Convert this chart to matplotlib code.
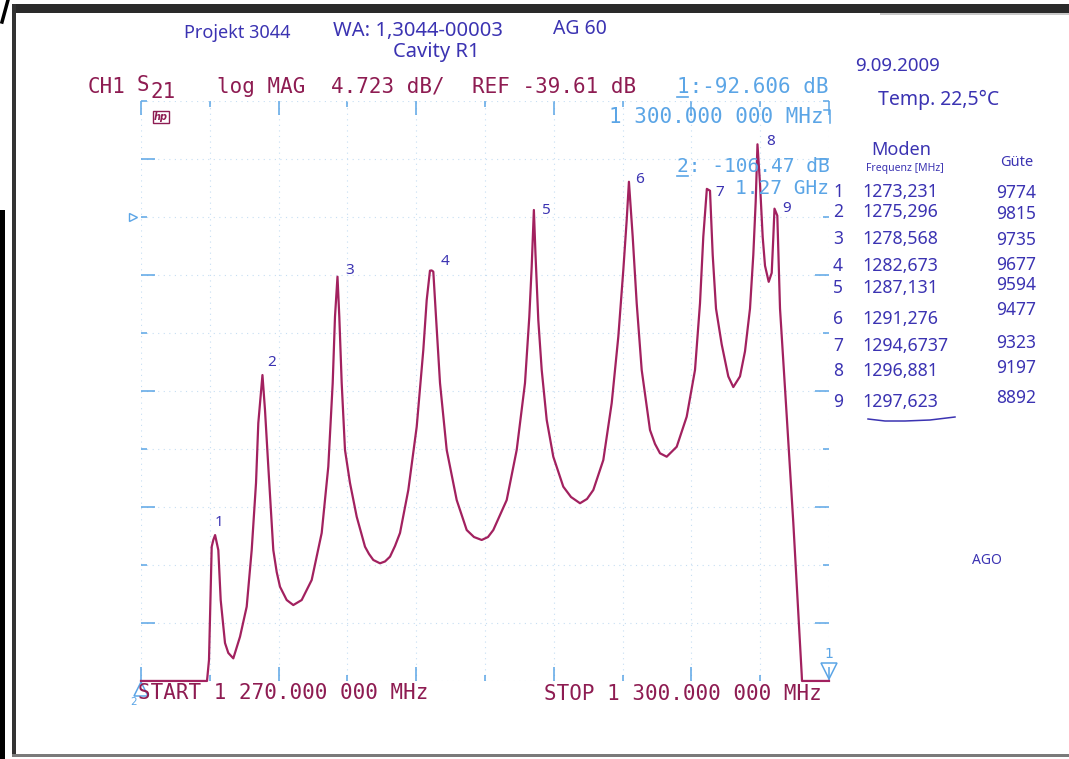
import numpy as np
import matplotlib
matplotlib.use('Agg')
import matplotlib.pyplot as plt
from matplotlib.patches import Rectangle
from matplotlib.transforms import offset_copy

# analyzer settings
START_MHZ = 1270.0
STOP_MHZ = 1300.0
REF_DB = -39.61
SCALE_DB = 4.723
REF_DIV = 8          # reference line, divisions above the bottom

# S21 trace (MHz, dB); below-screen samples sit on the bottom line
freq = [1270.000, 1272.878, 1272.965, 1273.083, 1273.153, 1273.231, 1273.371, 1273.475,
        1273.663, 1273.807, 1274.025, 1274.317, 1274.609, 1274.827, 1275.015, 1275.115,
        1275.296, 1275.407, 1275.551, 1275.769, 1275.917, 1276.061, 1276.353, 1276.641,
        1277.007, 1277.443, 1277.879, 1278.167, 1278.359, 1278.459, 1278.568, 1278.647,
        1278.751, 1278.895, 1279.113, 1279.406, 1279.768, 1279.942, 1280.130, 1280.421,
        1280.640, 1280.858, 1281.076, 1281.294, 1281.656, 1282.022, 1282.310, 1282.458,
        1282.600, 1282.673, 1282.746, 1282.863, 1283.038, 1283.330, 1283.766, 1284.202,
        1284.520, 1284.856, 1285.131, 1285.362, 1285.946, 1286.382, 1286.744, 1286.932,
        1287.036, 1287.131, 1287.200, 1287.324, 1287.473, 1287.691, 1287.978, 1288.414,
        1288.750, 1289.143, 1289.448, 1289.723, 1290.159, 1290.525, 1290.813, 1291.031,
        1291.179, 1291.276, 1291.440, 1291.615, 1291.833, 1292.195, 1292.413, 1292.631,
        1292.923, 1293.359, 1293.795, 1294.157, 1294.375, 1294.519, 1294.6737, 1294.811,
        1294.929, 1295.073, 1295.321, 1295.609, 1295.827, 1296.119, 1296.337, 1296.555,
        1296.699, 1296.804, 1296.881, 1296.991, 1297.109, 1297.210, 1297.371, 1297.502,
        1297.572, 1297.623, 1297.746, 1297.864, 1298.156, 1298.444, 1298.810, 1298.823,
        1300.000]
s21 = [-77.39, -77.39, -75.68, -66.46, -65.91, -65.51, -66.73, -70.80,
       -74.30, -75.11, -75.55, -73.79, -71.34, -66.73, -61.27, -56.39,
       -52.48, -55.33, -59.94, -66.73, -68.52, -69.72, -70.80, -71.21,
       -70.80, -69.17, -65.34, -59.94, -53.13, -47.73, -44.47, -47.73,
       -53.13, -58.58, -61.27, -64.02, -66.46, -67.05, -67.54, -67.81,
       -67.66, -67.27, -66.40, -65.34, -61.84, -56.69, -50.44, -46.37,
       -43.98, -43.96, -44.06, -47.73, -53.13, -58.58, -62.66, -65.10,
       -65.67, -65.91, -65.67, -65.10, -62.66, -58.58, -53.13, -47.73,
       -43.66, -39.04, -42.57, -48.00, -52.07, -56.14, -59.13, -61.57,
       -62.41, -62.92, -62.57, -61.84, -59.40, -54.76, -49.36, -43.93,
       -39.85, -36.74, -41.21, -46.64, -52.07, -56.96, -58.09, -58.85,
       -59.13, -58.32, -55.87, -52.07, -46.64, -41.21, -37.32, -37.47,
       -42.70, -47.07, -49.98, -52.59, -53.46, -52.59, -50.55, -47.07,
       -42.70, -38.34, -33.69, -36.89, -41.25, -43.58, -44.89, -44.16,
       -41.25, -38.93, -39.50, -47.07, -55.79, -64.52, -76.87, -77.39,
       -77.39]

# resonant modes
mode_no = [1, 2, 3, 4, 5, 6, 7, 8, 9]
mode_freq = [1273.231, 1275.296, 1278.568, 1282.673, 1287.131,
             1291.276, 1294.6737, 1296.881, 1297.623]
mode_q = [9774, 9815, 9735, 9677, 9594, 9477, 9323, 9197, 8892]

# analyzer markers
marker_no = [1, 2]
marker_freq = [1300.0, 1270.0]
marker_db = [-92.606, -106.47]

W, H = 1069, 759
TRACE = '#A2215F'
HPTXT = '#8E1C52'
BLUE = '#5BA5E6'
GRID = '#C6DEF3'
INK = '#3B33B2'
MONO = 'DejaVu Sans Mono'
HAND = 'Noto Sans'

fig = plt.figure(figsize=(W / 100, H / 100), dpi=100)
fig.patch.set_facecolor('white')

ax = fig.add_axes([141 / W, 1 - 681 / H, 688 / W, 580 / H])
bottom_db = REF_DB - REF_DIV * SCALE_DB
top_db = bottom_db + 10 * SCALE_DB
ax.set_xlim(START_MHZ, STOP_MHZ)
ax.set_ylim(bottom_db, top_db)
xdiv = np.linspace(START_MHZ, STOP_MHZ, 11)
ydiv = np.linspace(bottom_db, top_db, 11)
ax.set_xticks(xdiv[::2])
ax.set_xticks(xdiv[1::2], minor=True)
ax.set_yticks(ydiv[1::2])
ax.set_yticks(ydiv[::2], minor=True)
ax.tick_params(which='both', direction='in', top=True, right=True,
               labelbottom=False, labelleft=False, color=BLUE, width=1.1)
ax.tick_params(which='major', length=10)
ax.tick_params(which='minor', length=4)
ax.grid(which='both', color=GRID, lw=0.8, ls=(0, (1, 4)))
for s in ax.spines.values():
    s.set_visible(False)

ax.plot(freq, s21, color=TRACE, lw=1.6, clip_on=False, zorder=3,
        solid_joinstyle='round')

# mode numbers next to the peaks
peak_db = np.interp(mode_freq, freq, s21)
label_off = [(0, 13), (5, 13), (8, 6), (9, 9), (8, 0), (6, 2), (9, -4), (9, 3), (8, 0)]
for n, f, d, off in zip(mode_no, mode_freq, peak_db, label_off):
    ax.annotate(str(n), (f, d), xytext=off, textcoords='offset pixels',
                color=INK, fontsize=11, family=HAND, ha='left', va='center')

# markers (off screen values are pinned to the bottom line)
mk_db = np.clip(marker_db, bottom_db, top_db)
up = offset_copy(ax.transData, fig=fig, x=0, y=10, units='dots')
down = offset_copy(ax.transData, fig=fig, x=0, y=-8, units='dots')
ax.plot(marker_freq[0], mk_db[0], marker='v', ms=12, mfc='none', mec=BLUE,
        mew=1.1, transform=up, clip_on=False)
ax.annotate(str(marker_no[0]), (marker_freq[0], mk_db[0]), xytext=(0, 27),
            textcoords='offset pixels', color=BLUE, fontsize=10, ha='center', va='center')
ax.plot(marker_freq[1], mk_db[1], marker='^', ms=10, mfc='none', mec=BLUE,
        mew=1.1, transform=down, clip_on=False)
ax.annotate(str(marker_no[1]), (marker_freq[1], mk_db[1]), xytext=(-4, -21),
            textcoords='offset pixels', color=BLUE, fontsize=7.5, ha='right', va='center')
left = offset_copy(ax.transData, fig=fig, x=-8, y=0, units='dots')
ax.plot(START_MHZ, REF_DB, marker='>', ms=6, mfc='none', mec=BLUE, mew=1,
        transform=left, clip_on=False)

# page overlay in pixel coordinates
page = fig.add_axes([0, 0, 1, 1], zorder=5)
page.set_xlim(0, W)
page.set_ylim(H, 0)
page.axis('off')
page.patch.set_alpha(0)

# scanned page edges
page.add_patch(Rectangle((12, 4), W - 12, 9, color='#2A2A2A', lw=0))
page.add_patch(Rectangle((880, 13), W - 880, 2, color='#C8C8C8', lw=0))
page.add_patch(Rectangle((12, 4), 4, 752, color='#333333', lw=0))
page.add_patch(Rectangle((12, 754), W - 12, 3, color='#7A7A7A', lw=0))
page.add_patch(Rectangle((0, 210), 5, H - 210, color='black', lw=0))
page.plot([8, 2], [0, 22], color='black', lw=2.5)

# plotter text
mono = dict(family=MONO, fontsize=15, va='center')
mhz = lambda v: f'{v:,.3f}'.replace(',', ' ')
page.text(88, 87, 'CH1', color=HPTXT, ha='left', **mono)
page.text(137, 85, 'S', color=HPTXT, ha='left', **mono)
page.text(150, 92, '21', color=HPTXT, ha='left', **mono)
page.text(217, 87, 'log MAG', color=HPTXT, ha='left', **mono)
page.text(331, 87, f'{SCALE_DB} dB/', color=HPTXT, ha='left', **mono)
page.text(472, 87, f'REF {REF_DB:.2f} dB', color=HPTXT, ha='left', **mono)
page.text(677, 87, f'1:{marker_db[0]:.3f} dB', color=BLUE, ha='left', **mono)
page.plot([677, 688], [97, 97], color=BLUE, lw=1.2)
page.text(824, 117, f'{mhz(marker_freq[0])} 000 MHz', color=BLUE, ha='right', **mono)
page.plot([824, 830, 830], [110, 110, 123], color=BLUE, lw=1.1)
small = {**mono, 'fontsize': 14}
page.text(677, 167, f'2: {marker_db[1]:.2f} dB', color=BLUE, ha='left', **small)
page.plot([677, 688], [176, 176], color=BLUE, lw=1.2)
page.text(829, 189, f'{marker_freq[1] / 1000:.2f} GHz', color=BLUE, ha='right', **small)
page.text(138, 693, f'START {mhz(START_MHZ)} 000 MHz', color=HPTXT, ha='left', **mono)
page.text(544, 694, f'STOP {mhz(STOP_MHZ)} 000 MHz', color=HPTXT, ha='left', **mono)
page.text(161, 117, 'hp', color=HPTXT, fontsize=7, fontweight='bold', style='italic',
          ha='center', va='center',
          bbox=dict(boxstyle='square,pad=0.12', fc='none', ec=HPTXT, lw=1))

# handwritten notes
hand = dict(family=HAND, color=INK, va='center', ha='left')
page.text(184, 33, 'Projekt 3044', fontsize=13, **hand)
page.text(333, 31, 'WA: 1,3044-00003', fontsize=14.5, **hand)
page.text(553, 29, 'AG 60', fontsize=14, **hand)
page.text(393, 52, 'Cavity R1', fontsize=14.5, **hand)
page.text(855, 66, '9.09.2009', fontsize=13.5, **hand)
page.text(878, 100, 'Temp. 22,5°C', fontsize=14, **hand)
page.text(871, 150, 'Moden', fontsize=13, **hand)
page.text(866, 169, 'Frequenz [MHz]', fontsize=7.5, **hand)
page.text(1000, 163, 'Güte', fontsize=10.5, **hand)
page.text(972, 561, 'AGO', fontsize=10, **hand)

row_y = [192, 212, 239, 266, 288, 319, 346, 371, 402]
q_y = [193, 214, 240, 265, 285, 310, 343, 368, 398]
for n, f, q, y, yq in zip(mode_no, mode_freq, mode_q, row_y, q_y):
    page.text(838, y, str(n), fontsize=12.5, **{**hand, 'ha': 'center'})
    page.text(862, y, f'{f}'.replace('.', ','), fontsize=12.8, **hand)
    page.text(996, yq, str(q), fontsize=12.5, **hand)
page.plot([868, 885, 905, 930, 955], [419, 421, 421, 420, 417], color=INK, lw=1.1)

fig.savefig('out.png', dpi=100)
